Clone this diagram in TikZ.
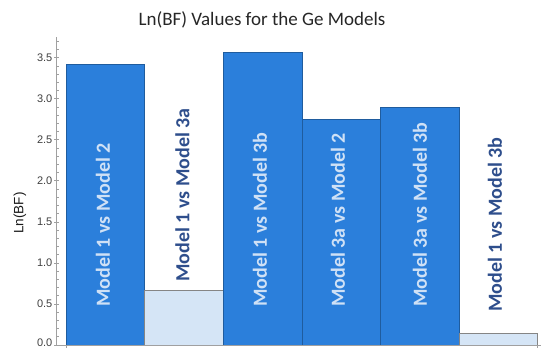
\documentclass[tikz,border=0pt]{standalone}
\usepackage{fontspec}
\setmainfont{Carlito}
\newfontfamily\arialf{Liberation Sans}
\definecolor{barblue}{HTML}{2B7FDB}
\definecolor{baredge}{HTML}{1F5C9E}
\definecolor{barlight}{HTML}{D5E5F6}
\definecolor{lightedge}{HTML}{858585}
\definecolor{txtlight}{HTML}{CFE1F6}
\definecolor{txtdark}{HTML}{2E4E8C}
\definecolor{axisgray}{HTML}{A0A0A0}
\definecolor{ticktxt}{HTML}{404040}
\begin{document}
\begin{tikzpicture}[x=1pt,y=-1pt,
  darkbar/.style={fill=barblue,draw=baredge,line width=0.8pt},
  lightbar/.style={fill=barlight,draw=lightedge,line width=0.6pt},
  barlabel/.style={rotate=90,anchor=west,inner sep=0pt,font=\fontsize{20}{24}\selectfont\bfseries},
  onDark/.style={barlabel,text=txtlight},
  onLight/.style={barlabel,text=txtdark},
  ticklabel/.style={anchor=east,inner sep=0pt,text=ticktxt,font=\arialf\fontsize{11}{13}\selectfont},
  axisline/.style={draw=axisgray,line width=0.7pt}]
\useasboundingbox (0,0) rectangle (541,348);
\fill[white] (0,0) rectangle (541,348);
% title
\node[anchor=base,inner sep=0pt,text=black!85,font=\fontsize{19}{23}\selectfont] (title) at (262,25) {Ln(BF) Values for the Ge Models};
% y label
\node[rotate=90,inner sep=0pt,text=black!90,font=\arialf\fontsize{13.5}{16}\selectfont] (ylab) at (20,213) {Ln(BF)};
% bars
\draw[darkbar]  (66,345)  rectangle (144,64);
\draw[lightbar] (144,345) rectangle (223,290);
\draw[darkbar]  (223,345) rectangle (302,52);
\draw[darkbar]  (302,345) rectangle (380,119);
\draw[darkbar]  (380,345) rectangle (459,107);
\draw[lightbar] (459,345) rectangle (537,333);
% axes
\coordinate (o) at (56,345);
\coordinate (ytop) at (56,37);
\coordinate (xend) at (541,345);
\draw[axisline] (ytop) -- (o) -- (xend);
\foreach \xx in {66,537} \draw[axisline] (\xx,345) -- (\xx,349);
\foreach \i in {0,...,37} {
  \pgfmathsetmacro{\yy}{345-\i*8.21}
  \pgfmathtruncatemacro{\m}{mod(\i,5)}
  \ifnum\m=0
    \draw[axisline] (54,\yy) -- (59,\yy);
  \else
    \draw[axisline] (56,\yy) -- (58.5,\yy);
  \fi
}
\node[ticklabel] (t0) at (52.5,342.5) {0.0};
\foreach \v/\lab in {1/0.5,2/1.0,3/1.5,4/2.0,5/2.5,6/3.0,7/3.5} {
  \node[ticklabel] (t\v) at (52.5,345-\v*41.05) {\lab};
}
% bar labels
\node[onDark]  (l1) at (103,307) {Model 1 vs Model 2};
\node[onLight] (l2) at (182.5,282) {Model 1 vs Model 3a};
\node[onDark]  (l3) at (260,307) {Model 1 vs Model 3b};
\node[onDark]  (l4) at (338,307) {Model 3a vs Model 2};
\node[onDark]  (l5) at (420,307) {Model 3a vs Model 3b};
\node[onLight] (l6) at (495,312) {Model 1 vs Model 3b};
\end{tikzpicture}
\end{document}
